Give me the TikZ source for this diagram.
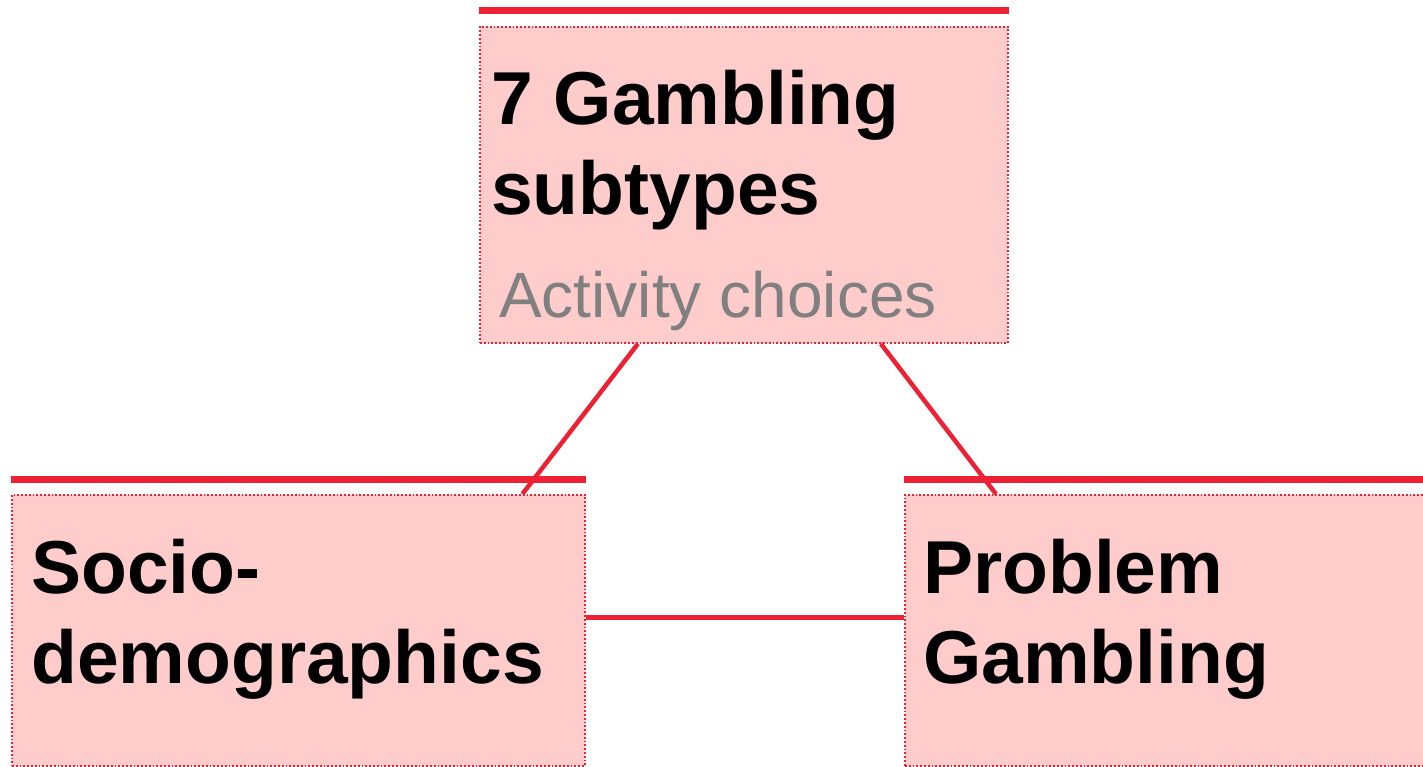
\documentclass[tikz,border=0pt]{standalone}
\usepackage{fontspec}
\setmainfont{Liberation Sans}
\usetikzlibrary{positioning}
\definecolor{boxpink}{RGB}{255,204,204}
\definecolor{barred}{RGB}{237,32,52}
\tikzset{
    box/.style={rectangle, fill=boxpink, draw=barred, line width=1.8pt, dash pattern=on 1.8pt off 2pt, anchor=north west, inner sep=0pt},
    bar/.style={barred, line width=7pt},
    link/.style={barred, line width=4.5pt},
    title/.style={anchor=base west, align=left, inner sep=0pt, font=\bfseries\fontsize{75pt}{90pt}\selectfont}
}
\begin{document}
\begin{tikzpicture}[x=1pt, y=-1pt]
    \useasboundingbox (0,0) rectangle (1423,767);

    \node[box, minimum width=528pt, minimum height=316pt] (subtypes) at (479,26) {};
    \node[box, minimum width=573pt, minimum height=271pt] (socio) at (11,494) {};
    \node[box, minimum width=530pt, minimum height=271pt] (problem) at (904,494) {};

    % red bars on top of the boxes
    \draw[bar] ([yshift=15pt]subtypes.north west) -- ([yshift=15pt]subtypes.north east);
    \draw[bar] ([yshift=15pt]socio.north west) -- ([yshift=15pt]socio.north east);
    \draw[bar] ([yshift=15pt]problem.north west) -- ([yshift=15pt]problem.north east);

    \node[title] (subtypesText) at (491,215) {7 Gambling\\subtypes};
    \node[anchor=base west, inner sep=0pt, text=gray, font=\fontsize{64pt}{74pt}\selectfont] (choices) at (499,317) {Activity choices};
    \node[title] (socioText) at (31,683) {Socio-\\demographics};
    \node[title] (problemText) at (923,683) {Problem\\Gambling};

    \draw[link] ([xshift=-106pt]subtypes.south) -- ([xshift=224pt]socio.north);
    \draw[link] ([xshift=137pt]subtypes.south) -- ([xshift=-174pt]problem.north);
    \draw[link] ([yshift=13pt]socio.east) -- ([yshift=13pt]problem.west);
\end{tikzpicture}
\end{document}
